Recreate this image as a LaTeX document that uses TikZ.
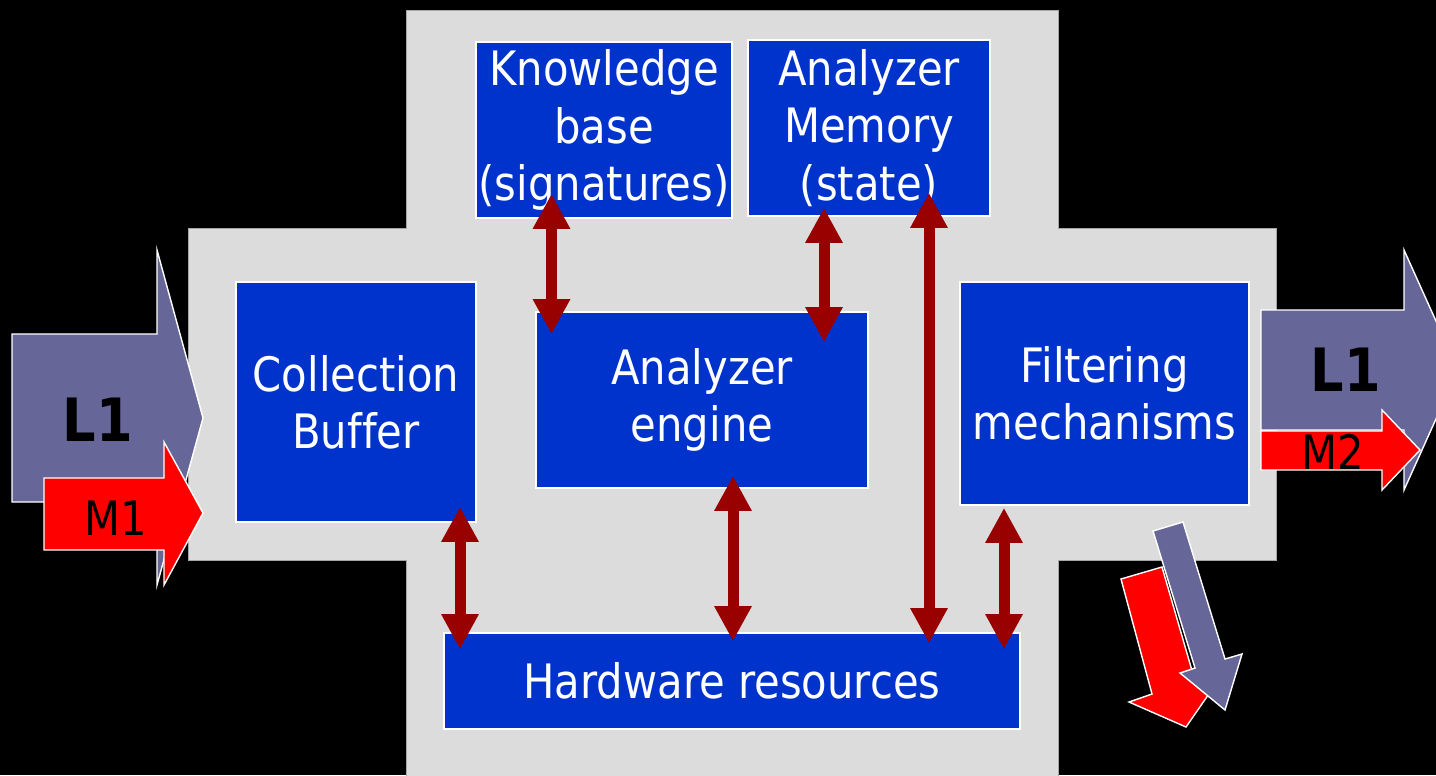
\documentclass[tikz,border=0pt]{standalone}
\usepackage{fontspec}
\setmainfont{DejaVu Sans}[FakeStretch=0.88, Ligatures=NoCommon]
\usetikzlibrary{arrows.meta,calc}

\definecolor{boxblue}{HTML}{0033CC}
\definecolor{panelgray}{HTML}{DCDCDC}
\definecolor{flowpurple}{HTML}{666699}
\definecolor{linkred}{HTML}{990000}

\tikzset{
  unit/.style={draw=white, line width=0.9pt, fill=boxblue, text=white, align=center,
    inner sep=0pt, font=\fontsize{27}{32.5}\selectfont},
  link/.style={draw=linkred, line width=0.22cm,
    {Triangle[length=0.7cm,width=0.7cm]}-{Triangle[length=0.7cm,width=0.7cm]}},
  flow/.style={draw=white, line width=0.8pt},
  tag/.style={text=black, inner sep=0pt, font=\fontsize{27}{32.5}\selectfont},
  bigtag/.style={text=black, inner sep=0pt, font=\fontsize{34}{40}\selectfont\bfseries},
}

\begin{document}
\begin{tikzpicture}[x=0.02cm, y=-0.02cm]

\useasboundingbox (0,0) rectangle (1436,775);
\clip (0,0) rectangle (1436,775);
\fill[black] (0,0) rectangle (1436,775);

% the analyzer panel
\filldraw[fill=panelgray, draw=gray!70, line width=0.5pt]
  (406,10) -- (1058,10) -- (1058,228) -- (1276,228) -- (1276,560) -- (1058,560)
  -- (1058,780) -- (406,780) -- (406,560) -- (188,560) -- (188,228) -- (406,228) -- cycle;

% input flows
\filldraw[flow, fill=flowpurple] (12,334) -- (157,334) -- (157,250) -- (203,418)
  -- (157,585) -- (157,502) -- (12,502) -- cycle;
\filldraw[flow, fill=red] (44,478) -- (164,478) -- (164,442) -- (203,513)
  -- (164,585) -- (164,550) -- (44,550) -- cycle;
\node[bigtag] (l1in) at (98,420) {L1};
\node[tag] (m1) at (116,518) {M1};

% output flows
\filldraw[flow, fill=flowpurple] (1261,310) -- (1404,310) -- (1404,250) -- (1458,370)
  -- (1404,490) -- (1404,430) -- (1261,430) -- cycle;
\filldraw[flow, fill=red] (1261,431) -- (1382,431) -- (1382,410) -- (1420,450)
  -- (1382,490) -- (1382,470) -- (1261,470) -- cycle;
\node[bigtag] (l1out) at (1346,370) {L1};
\node[tag] (m2) at (1333,452) {M2};

% discarded flows
\filldraw[flow, fill=red] (1121,579) -- (1162,567) -- (1195,681) -- (1222,675)
  -- (1186,727) -- (1129,702) -- (1152,694) -- cycle;
\filldraw[flow, fill=flowpurple] (1153,531) -- (1183,522) -- (1225,659) -- (1242,654)
  -- (1225,710) -- (1180,673) -- (1195,668) -- cycle;

\node[unit, minimum width=5.12cm, minimum height=3.52cm] (kb) at (604,130)
  {Knowledge\\base\\(signatures)};
\node[unit, minimum width=4.84cm, minimum height=3.52cm] (mem) at (869,128)
  {Analyzer\\Memory\\(state)};
\node[unit, minimum width=4.8cm, minimum height=4.8cm] (buf) at (356,402)
  {Collection\\Buffer};
\node[unit, minimum width=6.64cm, minimum height=3.52cm] (eng) at (702,400)
  {Analyzer\\engine};
\node[unit, minimum width=5.78cm, minimum height=4.46cm] (filt) at (1104.5,393.5)
  {Filtering\\mechanisms};
\node[unit, minimum width=11.52cm, minimum height=1.92cm] (hw) at (732,681)
  {Hardware resources};

\draw[link] ($(kb.south)+(-52.5,-25)$) -- ($(eng.north)+(-150.5,23)$);
\draw[link] ($(mem.south)+(-45,-9)$) -- ($(eng.north)+(122,31)$);
\draw[link] ($(mem.south)+(60,-24)$) -- ($(hw.north)+(197,11)$);
\draw[link] ($(buf.south)+(104,-16)$) -- ($(hw.north)+(-272,17)$);
\draw[link] ($(eng.south)+(31,-13)$) -- ($(hw.north)+(1,9)$);
\draw[link] ($(filt.south)+(-100.5,2)$) -- ($(hw.north)+(272,17)$);

\end{tikzpicture}
\end{document}
